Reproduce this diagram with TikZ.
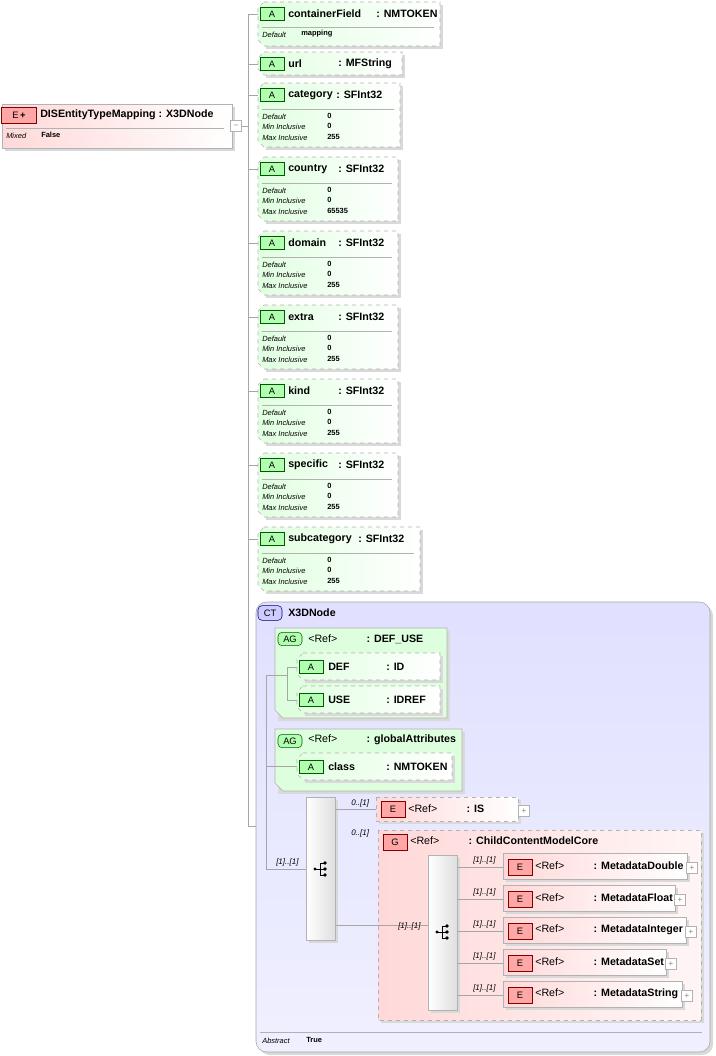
\documentclass[tikz,border=0pt]{standalone}
\usepackage{fontspec}
\setmainfont{Liberation Sans}
\begin{document}
\begin{tikzpicture}[x=0.75pt,y=-0.75pt,
  hdr/.style={anchor=west,inner sep=0,font=\fontsize{8}{8}\selectfont\bfseries},
  sm/.style={anchor=west,inner sep=0,font=\fontsize{5.6}{6}\selectfont\itshape},
  smb/.style={anchor=west,inner sep=0,font=\fontsize{5.6}{6}\selectfont\bfseries},
  card/.style={anchor=west,inner sep=0,font=\fontsize{6}{6}\selectfont\itshape},
  attrshape/.style={draw=gray!60,dashed,left color=green!12,right color=white},
  shadow/.style={fill=gray!30},
  aicon/.style={draw=green!35!black,fill=green!30,minimum width=18,minimum height=10,inner sep=0,font=\fontsize{7}{7}\selectfont},
  eicon/.style={draw=red!50!black,fill=red!35,minimum width=18,minimum height=12,inner sep=0,font=\fontsize{7}{7}\selectfont},
  conn/.style={draw=gray!70,line width=0.5},
  plusbox/.style={draw=gray!60,fill=white,minimum size=8,inner sep=0,font=\fontsize{6}{6}\selectfont,text=gray},
]
\useasboundingbox (0,0) rectangle (715,1056);
\newcommand\attrb[7]{%
 \fill[shadow] (266,#2+3)--(#4+3,#2+3)--(#4+3,#3+3)--(266,#3+3)--cycle;
 \draw[attrshape] (264,#2)--(#4,#2)--(#4,#3)--(264,#3)--(258,#3-6)--(258,#2+6)--cycle;
 \node[aicon] (#1i) at (272,#2+12) {A};
 \node[hdr] (#1) at (288,#2+12) {#5};
 \node[hdr] at (#7,#2+12) {: #6};
 \draw[conn] (248,#2+12)--(258,#2+12);}
\newcommand\rows[3]{%
 \draw[gray!60] (262,#1+26)--(#2,#1+26);
 \node[sm] at (262,#1+34) {Default}; \node[smb] at (327,#1+33) {0};
 \node[sm] at (262,#1+44) {Min Inclusive}; \node[smb] at (327,#1+43) {0};
 \node[sm] at (262,#1+55) {Max Inclusive}; \node[smb] at (327,#1+54) {#3};}
\newcommand\refl{\mdseries<Ref>\hspace{22pt}}
% main element
\fill[shadow] (5,107) rectangle (235,151);
\draw[gray!60,left color=red!15,right color=white] (2,104) rectangle (232,148);
\node[eicon,minimum width=26] (mei) at (19,115) {E\,\textbf{+}};
\node[hdr] (main) at (40,115) {DISEntityTypeMapping : X3DNode};
\draw[gray!60] (6,128)--(224,128);
\node[sm] at (6,136) {Mixed}; \node[smb] at (41,135) {False};
\node[plusbox] (mc) at (236,126) {--};
\draw[conn] (mc.east)--(248,126);
\draw[conn] (248,14)--(248,826)--(266,826);
% attributes
\attrb{cf}{2}{46}{440}{containerField}{NMTOKEN}{376}
\draw[gray!60] (262,27)--(434,27);
\node[sm] at (262,35) {Default}; \node[smb] at (301,34) {mapping};
\attrb{url}{52}{75}{402}{url}{MFString}{338}
\attrb{cat}{83}{147}{400}{category}{SFInt32}{336}\rows{83}{394}{255}
\attrb{cou}{157}{221}{398}{country}{SFInt32}{338}\rows{157}{392}{65535}
\attrb{dom}{231}{295}{398}{domain}{SFInt32}{338}\rows{231}{392}{255}
\attrb{ext}{305}{369}{398}{extra}{SFInt32}{338}\rows{305}{392}{255}
\attrb{kin}{379}{443}{398}{kind}{SFInt32}{338}\rows{379}{392}{255}
\attrb{spe}{453}{517}{398}{specific}{SFInt32}{338}\rows{453}{392}{255}
\attrb{sub}{527}{591}{420}{subcategory}{SFInt32}{358}\rows{527}{414}{255}
% complex type
\fill[shadow,rounded corners=8] (259,605) rectangle (713,1055);
\draw[gray!70,rounded corners=8,top color=blue!12,bottom color=blue!6] (256,602) rectangle (710,1052);
\node[draw=blue!50!black,fill=blue!20,rounded corners=3,minimum width=18,minimum height=11,inner sep=0,font=\fontsize{7}{7}\selectfont] (cti) at (270,613) {CT};
\node[hdr] (ct) at (288,613) {X3DNode};
\draw[gray!60] (260,1032)--(702,1032);
\node[sm] at (262,1041) {Abstract}; \node[smb] at (306,1040) {True};
% AG DEF_USE
\fill[shadow] (278,631) rectangle (450,721);
\draw[gray!60,fill=green!13] (275,628)--(447,628)--(447,718)--(283,718)--(275,710)--cycle;
\node[aicon,rounded corners=3] (agi1) at (290,639) {AG};
\node[hdr] (ag1) at (308,639) {\refl\bfseries: DEF\_USE};
\newcommand\inattr[5]{%
 \fill[shadow] (305,#2+3) rectangle (#3+3,#2+30);
 \draw[attrshape] (303,#2)--(#3,#2)--(#3,#2+27)--(303,#2+27)--(297,#2+21)--(297,#2+6)--cycle;
 \node[aicon] at (311,#2+14) {A};
 \node[hdr] (#1) at (328,#2+14) {#4};
 \node[hdr] at (386,#2+14) {: #5};}
\inattr{def}{653}{440}{DEF}{ID}
\inattr{use}{686}{440}{USE}{IDREF}
\draw[conn] (297,667)--(287,667)--(287,700)--(297,700);
% AG global
\fill[shadow] (278,732) rectangle (465,794);
\draw[gray!60,fill=green!13] (275,729)--(462,729)--(462,791)--(283,791)--(275,783)--cycle;
\node[aicon,rounded corners=3] (agi2) at (290,741) {AG};
\node[hdr] (ag2) at (308,740) {\refl\bfseries: globalAttributes};
\inattr{cls}{753}{452}{class}{NMTOKEN}
\draw[conn] (266,675)--(287,675);
\draw[conn] (266,766)--(297,766);
\draw[conn] (266,675)--(266,869)--(306,869);
\node[card] at (276,862) {[1]..[1]};
% sequence
\newcommand\seq[4]{%
 \fill[shadow] (#1+3,#2+3) rectangle (#1+32,#3+3);
 \draw[gray!60,left color=white,right color=gray!25] (#1,#2) rectangle (#1+29,#3);
 \fill (#1+9,#4) circle (1.7); \draw (#1+9,#4)--(#1+14,#4);
 \draw (#1+14,#4-6)--(#1+14,#4+6); \draw (#1+14,#4-6)--(#1+19,#4-6) (#1+14,#4+6)--(#1+19,#4+6) (#1+14,#4)--(#1+19,#4);
 \fill (#1+19,#4-6) circle (1.8) (#1+19,#4) circle (1.8) (#1+19,#4+6) circle (1.8);}
\seq{306}{797}{940}{869}
% IS
\fill[shadow] (379,800) rectangle (521,824);
\draw[gray!60,dashed,left color=red!15,right color=white] (376,797) rectangle (518,821);
\node[eicon] (isi) at (393,809) {E};
\node[hdr] (is) at (408,809) {\refl\bfseries: IS};
\node[plusbox] at (524,811) {+};
\draw[conn] (335,809)--(376,809);
\node[card] at (351,803) {0..[1]};
% G
\fill[shadow] (381,833) rectangle (704,1023);
\draw[gray!60,dashed,left color=red!15,right color=red!4] (378,830) rectangle (701,1020);
\node[eicon] (gi) at (395,842) {G};
\node[hdr] (g) at (410,841) {\refl\bfseries: ChildContentModelCore};
\node[card] at (351,833) {0..[1]};
\draw[conn] (335,925)--(378,925)--(428,925);
\node[card] at (398,926) {[1]..[1]};
\seq{428}{855}{1010}{932}
\newcommand\melem[4]{%
 \fill[shadow] (506,#1-10) rectangle (#2+3,#1+16);
 \draw[gray!60,left color=red!15,right color=white] (503,#1-13) rectangle (#2,#1+13);
 \node[eicon] (#4i) at (520,#1+1) {E};
 \node[hdr] (#4) at (535,#1) {\refl\bfseries: #3};
 \node[plusbox] at (#2+5,#1+2) {+};
 \draw[conn] (457,#1+1)--(503,#1+1);
 \node[card] at (473,#1-6) {[1]..[1]};}
\melem{866}{687}{MetadataDouble}{md}
\melem{898}{675}{MetadataFloat}{mf}
\melem{930}{686}{MetadataInteger}{mi}
\melem{962}{666}{MetadataSet}{ms}
\melem{994}{682}{MetadataString}{mstr}
\end{tikzpicture}
\end{document}
